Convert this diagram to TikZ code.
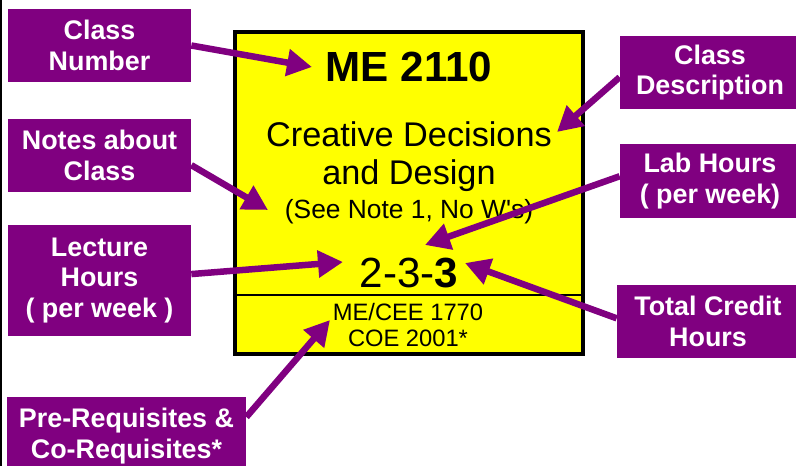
\documentclass[tikz,border=0pt]{standalone}
\usepackage{fontspec}
\setmainfont{Liberation Sans}
\usetikzlibrary{arrows.meta}
\definecolor{tagpurple}{HTML}{800080}
\definecolor{cardyellow}{HTML}{FFFF00}

\begin{document}
\begin{tikzpicture}[x=0.02cm, y=-0.02cm,
  tag/.style={fill=tagpurple, text=white, align=center, inner sep=0pt,
    font=\fontsize{15.3}{17.2}\selectfont\bfseries},
  pointer/.style={draw=tagpurple, line width=0.13cm,
    -{Triangle[length=0.5cm, width=0.52cm]}}]
  \useasboundingbox [fill=white] (0,0) rectangle (796,466);
  \draw [line width=0.03cm] (1,0) -- (1,466);
  % the course card
  \node (card) at (409,193) [draw, line width=0.08cm, fill=cardyellow,
    minimum width=6.96cm, minimum height=6.44cm, inner sep=0pt] {};
  \node (num) at (409,82) [anchor=base, font=\fontsize{24}{28}\selectfont\bfseries] {ME 2110};
  \node (title1) at (409,147) [anchor=base, font=\fontsize{19.5}{23}\selectfont] {Creative Decisions};
  \node (title2) at (409,185) [anchor=base, font=\fontsize{19.5}{23}\selectfont] {and Design};
  \node (note) at (409,219) [anchor=base, font=\fontsize{15}{18}\selectfont] {(See Note 1, No W\textquotesingle s)};
  \node (hours) at (409,288) [anchor=base, font=\fontsize{24}{28}\selectfont] {2-3-\textbf{3}};
  \draw [line width=0.03cm] (card.west |- 0,295) -- (card.east |- 0,295);
  \node (req1) at (408,321) [anchor=base, font=\fontsize{13.5}{16}\selectfont] {ME/CEE 1770};
  \node (req2) at (408,347) [anchor=base, font=\fontsize{13.5}{16}\selectfont] {COE 2001*};
  % labels
  \node (cnum) at (99.5,45.5) [tag, minimum width=3.66cm, minimum height=1.46cm] {Class\\Number};
  \node (notes) at (99.5,155.5) [tag, minimum width=3.66cm, minimum height=1.46cm] {Notes about\\Class};
  \node (lect) at (99.5,280.5) [tag, minimum width=3.66cm, minimum height=2.22cm] {Lecture\\Hours\\( per week )};
  \node (prereq) at (126.5,436) [tag, minimum width=4.78cm, minimum height=1.56cm] {Pre-Requisites \&\\Co-Requisites*};
  \node (cdesc) at (710,72.5) [tag, minimum width=3.6cm, minimum height=1.46cm] {Class\\Description};
  \node (lab) at (710,181) [tag, minimum width=3.6cm, minimum height=1.48cm] {Lab Hours\\( per week)};
  \node (total) at (708,321.5) [tag, minimum width=3.64cm, minimum height=1.46cm] {Total Credit\\Hours};
  % arrow tips
  \coordinate (numtip) at (312,67);
  \coordinate (notestip) at (268,210);
  \coordinate (lecttip) at (343,262);
  \coordinate (reqtip) at (330,320);
  \coordinate (desctip) at (557,132);
  \coordinate (labtip) at (425,245);
  \coordinate (totaltip) at (465,263);
  \draw [pointer] (cnum.east) -- (numtip);
  \draw [pointer] (notes.-6) -- (notestip);
  \draw [pointer] (lect.4) -- (lecttip);
  \draw [pointer] (prereq.9) -- (reqtip);
  \draw [pointer] (cdesc.183.5) -- (desctip);
  \draw [pointer] (lab.177) -- (labtip);
  \draw [pointer] (total.178) -- (totaltip);
\end{tikzpicture}
\end{document}
